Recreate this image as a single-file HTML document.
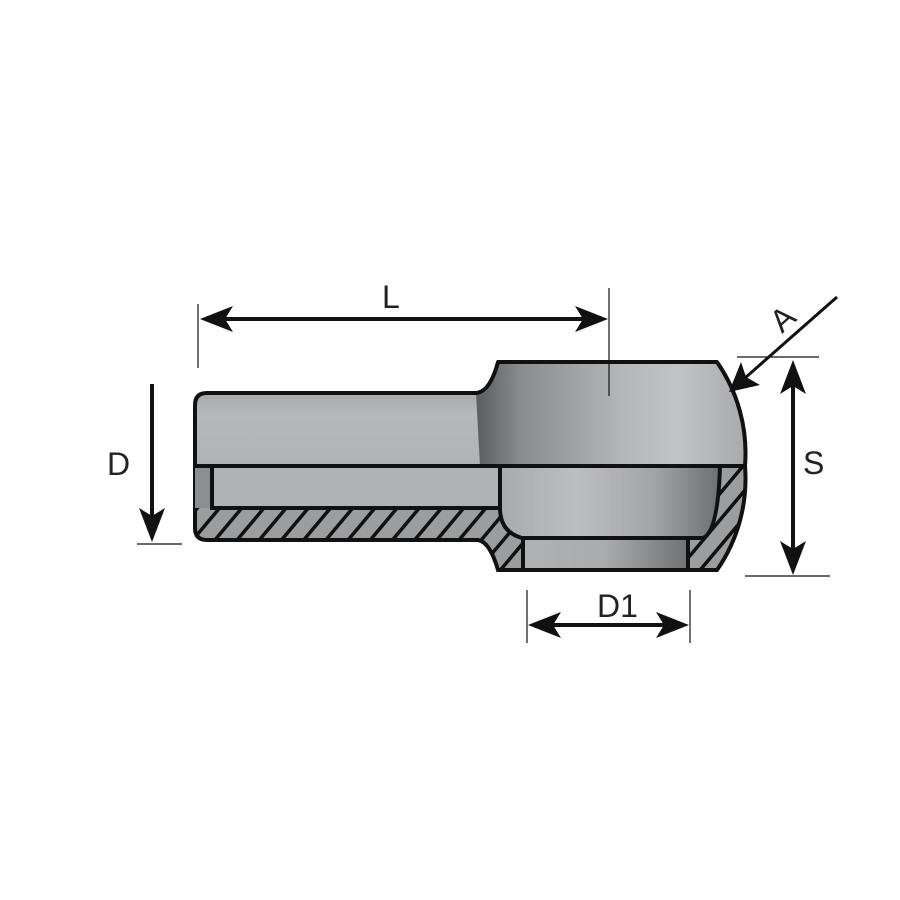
<!DOCTYPE html>
<html><head><meta charset="utf-8"><style>html,body{margin:0;padding:0;background:#fff}svg{display:block}</style></head>
<body>
<svg width="900" height="900" viewBox="0 0 900 900" xmlns="http://www.w3.org/2000/svg">
<defs>
<linearGradient id="ball" x1="480" y1="0" x2="745" y2="0" gradientUnits="userSpaceOnUse">
<stop offset="0" stop-color="#5f6062"/><stop offset="0.15" stop-color="#8a8b8d"/><stop offset="0.55" stop-color="#b6b7b9"/><stop offset="0.75" stop-color="#c2c3c5"/><stop offset="1" stop-color="#a9aaac"/></linearGradient>
<linearGradient id="tube" x1="0" y1="393" x2="0" y2="466" gradientUnits="userSpaceOnUse">
<stop offset="0" stop-color="#a8a9ab"/><stop offset="0.3" stop-color="#b7b8ba"/><stop offset="1" stop-color="#b1b2b4"/></linearGradient>
<linearGradient id="cav" x1="500" y1="0" x2="720" y2="0" gradientUnits="userSpaceOnUse">
<stop offset="0" stop-color="#a9aaac"/><stop offset="0.35" stop-color="#bdbec0"/><stop offset="0.7" stop-color="#a3a4a6"/><stop offset="1" stop-color="#6e6f71"/></linearGradient>
<linearGradient id="hole" x1="523" y1="0" x2="688" y2="0" gradientUnits="userSpaceOnUse">
<stop offset="0" stop-color="#b0b1b3"/><stop offset="0.5" stop-color="#aaabad"/><stop offset="1" stop-color="#707173"/></linearGradient>
<pattern id="hatch" width="17" height="17" patternUnits="userSpaceOnUse" patternTransform="rotate(40)">
<rect width="17" height="17" fill="#9c9d9f"/><rect x="0" y="0" width="3.5" height="17" fill="#111"/></pattern>
</defs>
<path d="M195,466 V528 Q195,540 207,540 H478 Q490,542 498,570 H717 A160,160 0 0 0 745,466 Z" fill="url(#hatch)" stroke="#111" stroke-width="4"/>
<rect x="195" y="466" width="17" height="42" fill="#8c8d8f"/>
<rect x="212" y="466" width="288" height="42" fill="#b0b1b3" stroke="#111" stroke-width="4"/>
<path d="M500,466 H720 Q718,532 703,538 H522 Q500,532 500,508 Z" fill="url(#cav)" stroke="#111" stroke-width="4"/>
<rect x="523" y="538" width="165" height="32" fill="url(#hole)" stroke="#111" stroke-width="4"/>
<path d="M195,466 V405 Q195,393 207,393 H490 V466 Z" fill="url(#tube)"/>
<path d="M476,393 Q490,392 498,362 H717 A160,160 0 0 1 745,466 H480 Z" fill="url(#ball)"/>
<path d="M195,466 V405 Q195,393 207,393 H476 Q490,392 498,362 H717 A160,160 0 0 1 745,466 Z" fill="none" stroke="#111" stroke-width="4" stroke-linejoin="round"/>
<line x1="195" y1="466" x2="745" y2="466" stroke="#111" stroke-width="4"/>
<g stroke="#111" fill="none">
<line x1="198" y1="304" x2="198" y2="368" stroke-width="1.2"/>
<line x1="609" y1="288" x2="609" y2="396" stroke-width="1.2"/>
<line x1="215" y1="319" x2="592" y2="319" stroke-width="4"/>
<line x1="152" y1="384" x2="152" y2="528" stroke-width="4"/>
<line x1="137" y1="544" x2="182" y2="544" stroke-width="1.2"/>
<line x1="737" y1="357" x2="819" y2="357" stroke-width="1.2"/>
<line x1="745" y1="576" x2="830" y2="576" stroke-width="1.2"/>
<line x1="793" y1="376" x2="793" y2="560" stroke-width="4"/>
<line x1="527" y1="590" x2="527" y2="643" stroke-width="1.2"/>
<line x1="690" y1="590" x2="690" y2="643" stroke-width="1.2"/>
<line x1="542" y1="625" x2="675" y2="625" stroke-width="4"/>
<line x1="837" y1="297" x2="745" y2="378" stroke-width="3"/>
</g>
<g fill="#111">
<polygon points="200,319 233,306 225,319 233,332"/>
<polygon points="608,319 575,306 583,319 575,332"/>
<polygon points="152,542 139,508 152,516 165,508"/>
<polygon points="793,360 780,394 793,386 806,394"/>
<polygon points="793,575 780,541 793,549 806,541"/>
<polygon points="528,625 561,612 553,625 561,638"/>
<polygon points="689,625 656,612 664,625 656,638"/>
<polygon points="729,392 741,362 746,377 760,385"/>
</g>
<g font-family="Liberation Sans, sans-serif" font-size="32" fill="#222">
<text x="382" y="308">L</text>
<text x="107" y="475">D</text>
<text x="803" y="474">S</text>
<text x="597" y="617">D1</text>
<text x="0" y="0" transform="translate(782,334) rotate(-42)">A</text>
</g>
</svg>
</body></html>
